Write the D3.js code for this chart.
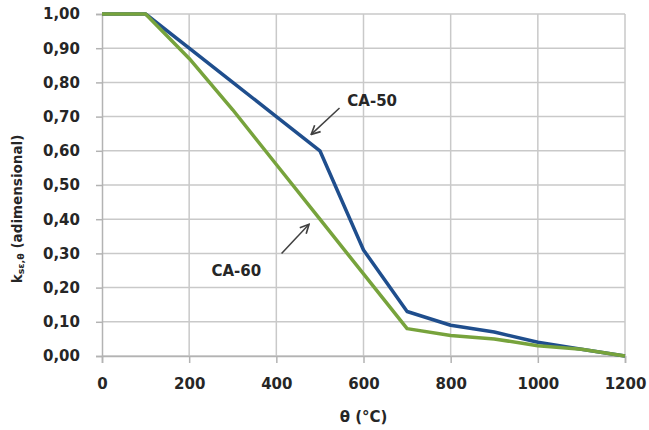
<!DOCTYPE html>
<html>
<head>
<meta charset="utf-8">
<script src="https://cdn.jsdelivr.net/npm/d3@7"></script>
<style>
  html, body { margin: 0; padding: 0; background: #fff; }
  svg { display: block; }
  text { font-family: "DejaVu Sans", sans-serif; font-weight: bold; fill: #262626; }
</style>
</head>
<body>
<svg id="chart" width="649" height="430"></svg>
<script>
// Temperature (°C) and reduction factor for each steel class
const temperatures = [0, 100, 200, 300, 400, 500, 600, 700, 800, 900, 1000, 1100, 1200];
const ca50 = [1.00, 1.00, 0.90, 0.80, 0.70, 0.60, 0.31, 0.13, 0.09, 0.07, 0.04, 0.02, 0.00];
const ca60 = [1.00, 1.00, 0.87, 0.72, 0.56, 0.40, 0.24, 0.08, 0.06, 0.05, 0.03, 0.02, 0.00];

const xTicks = [0, 200, 400, 600, 800, 1000, 1200];
const yTicks = [0, 0.1, 0.2, 0.3, 0.4, 0.5, 0.6, 0.7, 0.8, 0.9, 1.0];

// Label text with the point it points to (data units)
const labels = [
  { name: "CA-50", textAt: [620, 0.745], from: [545, 0.725], to: [480, 0.648] },
  { name: "CA-60", textAt: [308, 0.25], from: [412, 0.30], to: [475, 0.385] }
];

const svg = d3.select("#chart");
const x = d3.scaleLinear().domain([0, 1200]).range([102, 625]);
const y = d3.scaleLinear().domain([0, 1]).range([356, 14]);

const gridColor = "#c9c9c9";
const fmt = v => d3.format(".2f")(v).replace(".", ",");

// Horizontal gridlines
svg.append("g").selectAll("line").data(yTicks).join("line")
  .attr("x1", x(0)).attr("x2", x(1200))
  .attr("y1", d => y(d)).attr("y2", d => y(d))
  .attr("stroke", gridColor).attr("stroke-width", 1.5);

// Vertical gridlines
svg.append("g").selectAll("line").data(xTicks.slice(1)).join("line")
  .attr("x1", d => x(d)).attr("x2", d => x(d))
  .attr("y1", y(1)).attr("y2", y(0))
  .attr("stroke", gridColor).attr("stroke-width", 1.5);

// Axes
const yAxis = svg.append("g").attr("transform", `translate(${x(0)},0)`)
  .call(d3.axisLeft(y).tickValues(yTicks).tickFormat(fmt).tickSize(6).tickPadding(16));
const xAxis = svg.append("g").attr("transform", `translate(0,${y(0)})`)
  .call(d3.axisBottom(x).tickValues(xTicks).tickFormat(d3.format("d")).tickSize(7).tickPadding(15));

[yAxis, xAxis].forEach(g => {
  g.select(".domain").attr("stroke", "#b3b3b3").attr("stroke-width", 1.5);
  g.selectAll(".tick line").attr("stroke", "#b3b3b3").attr("stroke-width", 1.5);
  g.selectAll(".tick text")
    .attr("font-family", "DejaVu Sans, sans-serif")
    .attr("font-weight", "bold")
    .attr("font-size", 15)
    .attr("fill", "#262626");
});

// Data lines
const line = d3.line().x(d => x(d[0])).y(d => y(d[1]));
svg.append("path")
  .datum(temperatures.map((t, i) => [t, ca50[i]]))
  .attr("d", line).attr("fill", "none")
  .attr("stroke", "#1f4e8d").attr("stroke-width", 3.5)
  .attr("stroke-linejoin", "round");
svg.append("path")
  .datum(temperatures.map((t, i) => [t, ca60[i]]))
  .attr("d", line).attr("fill", "none")
  .attr("stroke", "#77a33c").attr("stroke-width", 3.5)
  .attr("stroke-linejoin", "round");

// Arrow marker
svg.append("defs").append("marker")
  .attr("id", "arrow").attr("viewBox", "0 0 10 10")
  .attr("refX", 9).attr("refY", 5)
  .attr("markerWidth", 11).attr("markerHeight", 11)
  .attr("markerUnits", "userSpaceOnUse")
  .attr("orient", "auto")
  .append("path").attr("d", "M1,1 L9,5 L1,9")
  .attr("fill", "none").attr("stroke", "#404040").attr("stroke-width", 1.5);

const ann = svg.append("g");
labels.forEach(l => {
  ann.append("line")
    .attr("x1", x(l.from[0])).attr("y1", y(l.from[1]))
    .attr("x2", x(l.to[0])).attr("y2", y(l.to[1]))
    .attr("stroke", "#404040").attr("stroke-width", 1.5)
    .attr("marker-end", "url(#arrow)");
  ann.append("text")
    .attr("x", x(l.textAt[0])).attr("y", y(l.textAt[1]))
    .attr("dy", "0.35em").attr("text-anchor", "middle")
    .attr("font-size", 15)
    .text(l.name);
});

// Axis titles
svg.append("text")
  .attr("x", x(600)).attr("y", 417).attr("dy", "0.35em")
  .attr("text-anchor", "middle").attr("font-size", 15)
  .text("θ (°C)");

const yt = svg.append("text")
  .attr("transform", `translate(17,209) rotate(-90)`)
  .attr("dy", "0.35em").attr("text-anchor", "middle").attr("font-size", 13.5);
yt.append("tspan").text("k");
yt.append("tspan").attr("font-size", 9.5).attr("dy", "0.25em").text("sε,θ");
yt.append("tspan").attr("font-size", 13.5).attr("dy", "-0.18em").text(" (adimensional)");
</script>
</body>
</html>
